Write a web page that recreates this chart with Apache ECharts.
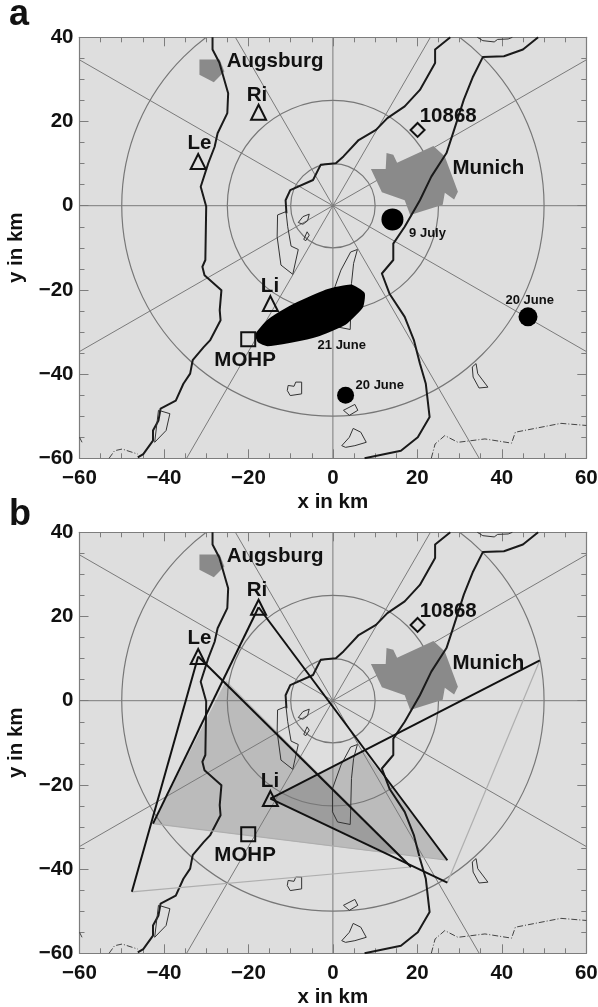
<!DOCTYPE html>
<html><head><meta charset="utf-8">
<style>html,body{margin:0;padding:0;background:#fff}#c{width:598px;height:1007px}</style>
<script src="https://cdn.jsdelivr.net/npm/echarts@6/dist/echarts.min.js"></script>
</head><body><div id="c"></div>
<script>
// ---- data in km ----
const ringRadii = [10, 25, 50];
const spokes = [
  [[-60, 0], [60, 0]],
  [[0, -60], [0, 40]],
  [[-60, 34.64], [60, -34.64]],
  [[-60, -34.64], [60, 34.64]],
  [[-34.64, -60], [23.09, 40]],
  [[-23.09, 40], [34.64, -60]]
];
const riverWest = [[-28.5,40],[-28.5,37.1],[-26.9,34],[-26.4,32.3],[-24.8,26.7],[-25,22],[-27.3,17.2],[-28,14],[-29.5,10.1],[-31.3,4.5],[-30,-0.2],[-30.2,-12.9],[-30.9,-14.5],[-30.4,-16.5],[-26.4,-20.1],[-26.8,-24.8],[-26.6,-27.2],[-29.1,-32],[-30.6,-33.6],[-33.2,-36.7],[-33.8,-39.9],[-35.4,-42.3],[-37.2,-46.3],[-40.8,-48.2],[-41.3,-51],[-42.6,-53.4],[-42.6,-55.8],[-44.9,-59],[-46.2,-59.8]];
const riverMiddle = [[27.8,40],[24.2,37.1],[24.2,33.9],[20.6,27.5],[17,23.6],[12.9,20.8],[10.2,18],[6.1,15.6],[2.5,11.7],[0.7,10.1],[-2.9,9.7],[-4.7,6.1],[-10.1,3.7],[-11.2,1.3],[-11,-1.8]];
const riverEast = [[48.6,40],[45,37.1],[40.5,35.5],[35.5,35.3],[33.2,30.7],[31,25.2],[28.7,18],[26.9,12.5],[23.3,6.9],[20.6,1.3],[17,-5],[14.3,-9],[14.3,-12.9],[11.6,-16.1],[13.4,-20.9],[17,-26.4],[19.2,-32],[20.6,-37.5],[22,-42.3],[22.9,-50.2],[20.1,-55],[16.1,-58.2],[7.5,-60]];
const topOutline = [[34.2,40],[35.5,39.2],[38.2,38.9],[39,39.5],[41.5,39.6],[42.5,40]];
const borderEast = [[23.3,-60],[24.2,-56.6],[26.5,-54.6],[29.6,-56.2],[36,-55.4],[42.3,-56.4],[43.2,-53.8],[54,-51.7],[60,-52.2]];
const borderWest = [[-53,-60],[-51.7,-58.2],[-49.9,-57.8],[-46.2,-59]];
const borderEdge = [[-60,-55],[-59.4,-56.2]];
const lakes = [
  [[-11.1,-1.4],[-13.1,-2.2],[-13.2,-7.4],[-12.3,-14.1],[-9.5,-16.3],[-8.2,-10.4],[-9.9,-9.6],[-10.7,-5]],
  [[-8.2,-4],[-7.1,-2.6],[-5.6,-2],[-6,-3.6],[-7.1,-4.4]],
  [[-6.9,-8],[-6.1,-6.2],[-5.6,-7],[-6.4,-8.3]],
  [[5.8,-10.4],[4.2,-11],[1.9,-15.3],[-0.1,-20.9],[-0.1,-26.4],[1.1,-28.8],[4.1,-29.4],[4.2,-26.4],[4.4,-18.5],[4.9,-13.7]],
  [[33,-38.3],[33.9,-37.5],[34.3,-39.9],[36.7,-43.1],[34.6,-43.3],[33.2,-40.7]],
  [[-10.6,-42.7],[-9.2,-42.9],[-8.8,-41.9],[-7.4,-41.9],[-7.4,-44.7],[-10.1,-45.1],[-10.8,-43.9]],
  [[2.5,-48.6],[5.2,-47.2],[5.9,-48.6],[3.9,-49.8]],
  [[2.1,-57],[3.9,-55],[4.8,-52.9],[6.6,-53.8],[7.9,-56.2],[5.2,-57],[3,-57.4]],
  [[-41.3,-48.6],[-38.6,-49.4],[-39.5,-53.4],[-42.2,-56.2]]
];
const munich = [[9,8.7],[12.5,8.7],[12.7,12.5],[14.3,12.1],[15.2,10.2],[23.8,14.2],[26.5,11.7],[29.6,3.3],[28.7,1.5],[26.5,3.1],[26,0.2],[18.3,-2.2],[17,1.3],[11.6,3.2]];
const augsburg = [[-31.6,34.7],[-26.8,34.7],[-25.7,31.9],[-28.2,29.3],[-31.6,31.1]];
const plume = [[-18,-30.6],[-15.5,-27.6],[-12.3,-25.4],[-8.3,-23.2],[-1.1,-20.1],[4.3,-19.1],[7.2,-20.9],[6.8,-24],[2.8,-28],[-3.8,-30.8],[-10,-32.2],[-15.5,-33],[-17.5,-32.2]];
const triangles = [[-17.6,22.2],[-31.9,10.5],[-14.8,-23.25]];
const squares = [[-20.05,-31.75]];
const diamonds = [[20.05,18]];
const dots = [[14.1,-3.25,22],[46.2,-26.4,19],[3,-45,17]];
const siteLabels = [['Augsburg',-13.7,34.3],['Ri',-18,26.3],['Le',-31.6,14.8],['10868',27.3,21.2],['Munich',36.8,8.9],['Li',-14.9,-19.1],['MOHP',-20.8,-36.7]];
const dateLabels = [['9 July',22.4,-6.6],['21 June',2.1,-33.2],['20 June',46.6,-22.5],['20 June',11.1,-42.7]];
const shaded = [
  [[-25.3,4.8],[-42.6,-29.2],[15.9,-36.6]],
  [[-14.8,-23.25],[7.4,-12.1],[27.1,-37.9],[12.7,-36.1]]
];
const rays = [
  [[-31.9,10.5],[-47.6,-45.4]],
  [[-31.9,10.5],[18.5,-39.5]],
  [[-17.6,22.2],[-42.6,-29.2]],
  [[-17.6,22.2],[27.1,-37.9]],
  [[-14.8,-23.25],[49,9.6]],
  [[-14.8,-23.25],[27.1,-43.2]]
];
const farEdges = [
  [[-47.6,-45.4],[18.5,-39.5]],
  [[49,9.6],[27.1,-43.2]],
  [[-42.6,-29.2],[27.1,-37.9]]
];
const xTicks = {min:-60, max:60, interval:20};
const yTicks = {min:-60, max:40, interval:20};

// ---- helpers ----
const FONT = '"Liberation Sans", Arial, sans-serif';
const AXC = '#7d7d7d';
const minus = v => String(v).replace('-', '\u2212');
const series = [];
function line(p, pts, color, width, z, type){
  series.push({type:'line', xAxisIndex:p*2, yAxisIndex:p*2, data:pts, showSymbol:false, symbol:'none', silent:true, clip:true, z,
    lineStyle:{color, width, type:type||'solid', join:'round'}, animation:false});
}
function polys(p, rings, style, z, extra){
  series.push({type:'custom', xAxisIndex:p*2, yAxisIndex:p*2, clip:true, z, silent:true, animation:false,
    data:rings.map((r,i)=>[r[0][0], r[0][1], i]),
    renderItem:(params, api)=>({type:'polygon', shape:Object.assign({points:rings[params.dataIndex].map(q=>api.coord(q))}, extra||{}), style})
  });
}
function rings(p){
  series.push({type:'custom', xAxisIndex:p*2, yAxisIndex:p*2, clip:true, z:3, silent:true, animation:false,
    data:ringRadii.map(r=>[0,0,r]),
    renderItem:(params, api)=>{
      const c = api.coord([0,0]), s = api.size([ringRadii[params.dataIndex], ringRadii[params.dataIndex]]);
      return {type:'ellipse', shape:{cx:c[0], cy:c[1], rx:s[0], ry:s[1]}, style:{fill:'none', stroke:'#777', lineWidth:1.2}};
    }});
}
function labels(p, list, size){
  series.push({type:'custom', xAxisIndex:p*2, yAxisIndex:p*2, z:20, silent:true, animation:false,
    data:list.map(l=>[l[1], l[2]]),
    renderItem:(params, api)=>{
      const c = api.coord([list[params.dataIndex][1], list[params.dataIndex][2]]);
      return {type:'text', style:{text:list[params.dataIndex][0], x:c[0], y:c[1], align:'center', verticalAlign:'middle',
        font:'bold '+size+'px '+FONT, fill:'#111'}};
    }});
}
function marks(p, pts, symbol, size){
  series.push({type:'scatter', xAxisIndex:p*2, yAxisIndex:p*2, z:18, silent:true, animation:false, symbol, symbolSize:size, data:pts,
    itemStyle:{color:'rgba(0,0,0,0)', borderColor:'#111', borderWidth:2, opacity:1}});
}
function basemap(p){
  rings(p);
  spokes.forEach(s=>line(p, s, '#7a7a7a', 1, 4));
  polys(p, [munich, augsburg], {fill:'#8a8a8a'}, 5);
  line(p, riverWest, '#1a1a1a', 2, 6);
  line(p, riverMiddle, '#1a1a1a', 2, 6);
  line(p, riverEast, '#1a1a1a', 2, 6);
  line(p, topOutline, '#333', 1, 6);
  lakes.forEach(l=>line(p, l.concat([l[0]]), '#333', 1, 6));
  [borderEast, borderWest, borderEdge].forEach(b=>line(p, b, '#444', 1, 6, [6,2,1,2]));
  marks(p, triangles, 'triangle', 15);
  marks(p, squares, 'rect', 14);
  marks(p, diamonds, 'diamond', 14);
  labels(p, siteLabels, 20.5);
}
// panel a
basemap(0);
polys(0, [plume], {fill:'#000', stroke:'#000', lineWidth:3, lineJoin:'round'}, 12, {smooth:0.15});
series.push({type:'scatter', xAxisIndex:0, yAxisIndex:0, z:15, silent:true, animation:false, data:dots,
  symbol:'circle', symbolSize:d=>d[2], itemStyle:{color:'#000', opacity:1}});
labels(0, dateLabels, 13);
// panel b
basemap(1);
polys(1, shaded, {fill:'rgba(0,0,0,0.155)'}, 2);
farEdges.forEach(e=>line(1, e, '#aeaeae', 1.2, 7));
rays.forEach(r=>line(1, r, '#111', 2, 8));

const tickText = {fontFamily:FONT, fontWeight:'bold', fontSize:20.5, color:'#111'};
const tickLine = {lineStyle:{color:AXC, width:1}, inside:true, length:9};
const minor = {show:true, splitNumber:4, length:5, lineStyle:{color:AXC, width:1}};
function xAxis(i, pos, show){
  return Object.assign({}, xTicks, {type:'value', gridIndex:i, position:pos, axisLine:{onZero:false, lineStyle:{color:AXC, width:1.2}},
    axisTick:tickLine, minorTick:minor, splitLine:{show:false}, minorSplitLine:{show:false},
    axisLabel:Object.assign({show, margin:10, formatter:minus, hideOverlap:false, showMinLabel:true, showMaxLabel:true}, tickText),
    name:show?'x in km':'', nameLocation:'middle', nameGap:33.5, nameTextStyle:tickText});
}
function yAxis(i, pos, show){
  return Object.assign({}, yTicks, {type:'value', gridIndex:i, position:pos, axisLine:{onZero:false, lineStyle:{color:AXC, width:1.2}},
    axisTick:tickLine, minorTick:minor, splitLine:{show:false}, minorSplitLine:{show:false},
    axisLabel:Object.assign({show, margin:6, padding:[2,0,0,0], formatter:minus, hideOverlap:false, showMinLabel:true, showMaxLabel:true}, tickText),
    name:show?'y in km':'', nameLocation:'middle', nameGap:52.5, nameRotate:90, nameTextStyle:tickText});
}
const option = {
  animation:false,
  backgroundColor:'#fff',
  title:[
    {text:'a', left:4, top:-8, textStyle:{fontFamily:FONT, fontWeight:'bold', fontSize:36, color:'#111'}},
    {text:'b', left:4, top:492, textStyle:{fontFamily:FONT, fontWeight:'bold', fontSize:36, color:'#111'}}
  ],
  grid:[
    {left:79.5, top:37.3, width:506.8, height:421, show:true, backgroundColor:'#dedede', borderWidth:0, outerBoundsMode:'none'},
    {left:79.5, top:532.3, width:506.8, height:421, show:true, backgroundColor:'#dedede', borderWidth:0, outerBoundsMode:'none'}
  ],
  xAxis:[xAxis(0,'bottom',true), xAxis(0,'top',false), xAxis(1,'bottom',true), xAxis(1,'top',false)],
  yAxis:[yAxis(0,'left',true), yAxis(0,'right',false), yAxis(1,'left',true), yAxis(1,'right',false)],
  series
};
const chart = echarts.init(document.getElementById('c'), null, {renderer:'canvas'});
chart.setOption(option);
</script></body></html>
